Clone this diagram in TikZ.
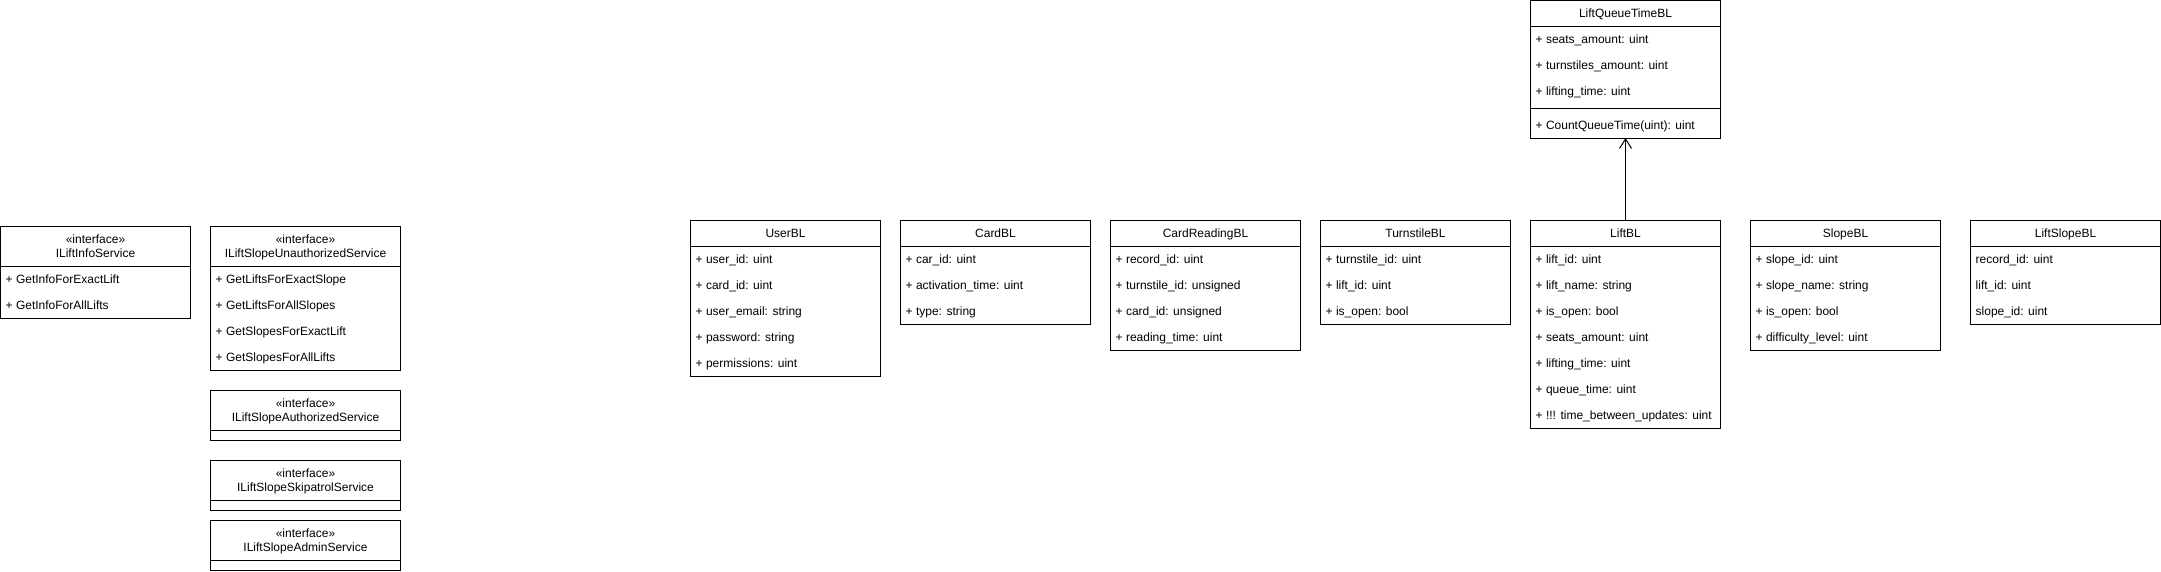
\documentclass[tikz,border=0pt]{standalone}
\usepackage{fontspec}
\setmainfont{Liberation Sans}
\usetikzlibrary{arrows.meta}
\tikzset{
  classbox/.style={draw, line width=1pt, rectangle, inner sep=0pt, outer sep=0pt, anchor=north west},
  rowtext/.style={anchor=base west, inner sep=0pt, font=\fontsize{12}{14.4}\selectfont},
  titletext/.style={anchor=base, inner sep=0pt, font=\fontsize{12}{14.4}\selectfont},
  divider/.style={line width=1pt},
  assoc/.style={line width=1pt, -{Straight Barb[length=9.5pt,width=12pt,line width=1pt]}},
}
% rows: name, x, first row top y, list
\newcommand\umlrows[4]{%
  \foreach \t [count=\i] in {#4} {
    \node[rowtext] (#1-\i) at ({#2+5},{#3+(\i-1)*26+17.2}) {\t};
  }%
}
% class: name, x, y, height, title, rows
\newcommand\umlclass[6]{%
  \node[classbox, minimum width=190pt, minimum height=#4pt] (#1) at (#2,#3) {};
  \node[titletext] (#1-title) at ({#2+95},{#3+17.2}) {#5};
  \draw[divider] ({#2},{#3+26}) -- ({#2+190},{#3+26});
  \umlrows{#1}{#2}{#3+26}{#6}%
}
% interface head: name, x, y, height, title
\newcommand\umliface[5]{%
  \node[classbox, minimum width=190pt, minimum height=#4pt] (#1) at (#2,#3) {};
  \node[titletext] (#1-st) at ({#2+95},{#3+17}) {«interface»};
  \node[titletext] (#1-title) at ({#2+95},{#3+31.4}) {#5};
  \draw[divider] ({#2},{#3+40}) -- ({#2+190},{#3+40});
}
\begin{document}
\begin{tikzpicture}[x=1pt, y=-1pt]
\useasboundingbox (0,0) rectangle (2161,571);

% interfaces
\umliface{ilis}{0.5}{226.5}{92}{ILiftInfoService}
\umlrows{ilis}{0.5}{266.5}{+ GetInfoForExactLift, + GetInfoForAllLifts}

\umliface{ilsu}{210.5}{226.5}{144}{ILiftSlopeUnauthorizedService}
\umlrows{ilsu}{210.5}{266.5}{+ GetLiftsForExactSlope, + GetLiftsForAllSlopes, + GetSlopesForExactLift, + GetSlopesForAllLifts}

\umliface{ilsa}{210.5}{390.5}{50}{ILiftSlopeAuthorizedService}
\umliface{ilss}{210.5}{460.5}{50}{ILiftSlopeSkipatrolService}
\umliface{ilsad}{210.5}{520.5}{50}{ILiftSlopeAdminService}

% classes
\umlclass{user}{690.5}{220.5}{156}{UserBL}{+ user\_id: uint, + card\_id: uint, + user\_email: string, + password: string, + permissions: uint}
\umlclass{card}{900.5}{220.5}{104}{CardBL}{+ car\_id: uint, + activation\_time: uint, + type: string}
\umlclass{cardr}{1110.5}{220.5}{130}{CardReadingBL}{+ record\_id: uint, + turnstile\_id: unsigned, + card\_id: unsigned, + reading\_time: uint}
\umlclass{turn}{1320.5}{220.5}{104}{TurnstileBL}{+ turnstile\_id: uint, + lift\_id: uint, + is\_open: bool}
\umlclass{lift}{1530.5}{220.5}{208}{LiftBL}{+ lift\_id: uint, + lift\_name: string, + is\_open: bool, + seats\_amount: uint, + lifting\_time: uint, + queue\_time: uint, + !!! time\_between\_updates: uint}
\umlclass{slope}{1750.5}{220.5}{130}{SlopeBL}{+ slope\_id: uint, + slope\_name: string, + is\_open: bool, + difficulty\_level: uint}
\umlclass{ls}{1970.5}{220.5}{104}{LiftSlopeBL}{record\_id: uint, lift\_id: uint, slope\_id: uint}

\umlclass{lqt}{1530.5}{0}{138}{LiftQueueTimeBL}{+ seats\_amount: uint, + turnstiles\_amount: uint, + lifting\_time: uint}
\draw[divider] (1530.5,108) -- (1720.5,108);
\node[rowtext] (lqt-m1) at (1535.5,129.2) {+ CountQueueTime(uint): uint};

% connector
\draw[assoc] (lift.north) -- (lqt.south);
\end{tikzpicture}
\end{document}
